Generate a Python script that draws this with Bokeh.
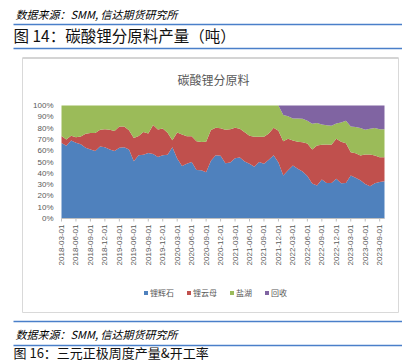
import math
import pandas as pd
from bokeh.plotting import figure
from bokeh.models import ColumnDataSource, Range1d, Legend, LegendItem
from bokeh.core.properties import value
from bokeh.embed import file_html
from bokeh.resources import INLINE

# ---------------- data (shares of lithium carbonate output, %) ----------------
months = list(pd.date_range("2018-03-01", periods=68, freq="MS").strftime("%Y-%m-%d"))
series_names = ["锂辉石", "锂云母", "盐湖", "回收"]

spodumene = [66.8, 64.4, 69.0, 67.0, 65.6, 62.6, 61.0, 59.7, 63.8, 63.0,
             61.0, 59.7, 62.6, 63.0, 61.0, 50.6, 55.9, 56.5, 58.0, 57.0,
             54.4, 56.0, 56.5, 63.0, 53.0, 46.5, 48.5, 50.0, 43.0, 42.6,
             41.0, 51.0, 56.0, 55.5, 49.0, 49.5, 53.3, 54.0, 50.5, 48.5,
             45.8, 50.0, 48.5, 52.0, 56.0, 49.5, 38.0, 42.8, 47.0, 44.0,
             41.5, 37.7, 31.0, 29.3, 34.5, 31.4, 31.4, 35.2, 31.2, 31.4,
             38.0, 36.0, 33.8, 30.5, 28.6, 31.2, 32.2, 33.0]
lepidolite = [6.2, 5.6, 4.2, 5.0, 7.0, 12.4, 14.6, 15.9, 14.7, 16.0,
              17.5, 17.8, 18.9, 18.5, 17.0, 20.7, 17.1, 20.1, 17.3, 25.7,
              24.4, 23.6, 19.3, 6.3, 23.0, 27.8, 24.3, 22.8, 25.3, 25.0,
              27.0, 27.3, 24.2, 24.3, 29.5, 29.5, 26.9, 25.4, 25.8, 24.8,
              26.5, 22.3, 23.8, 23.3, 24.3, 28.2, 30.3, 27.7, 22.0, 24.0,
              25.9, 28.7, 30.0, 35.3, 30.7, 34.1, 33.8, 35.3, 36.8, 35.3,
              20.7, 21.8, 22.0, 26.1, 28.0, 24.6, 22.1, 21.3]
brine = [27.0, 30.0, 26.8, 28.0, 27.4, 25.0, 24.4, 24.4, 21.5, 21.0,
         21.5, 22.5, 18.5, 18.5, 22.0, 28.7, 27.0, 23.4, 24.7, 17.3,
         21.2, 20.4, 24.2, 30.7, 24.0, 25.7, 27.2, 27.2, 31.7, 32.4,
         32.0, 21.7, 19.8, 20.2, 21.5, 21.0, 19.8, 20.6, 23.7, 26.7,
         27.7, 27.7, 27.7, 24.7, 19.7, 22.3, 23.2, 20.0, 19.5, 20.5,
         20.9, 20.1, 22.8, 20.0, 18.0, 17.0, 16.8, 13.5, 17.0, 19.9,
         22.8, 23.2, 24.2, 21.9, 22.9, 24.2, 24.7, 24.7]
recycling = [0, 0, 0, 0, 0, 0, 0, 0, 0, 0,
             0, 0, 0, 0, 0, 0, 0, 0, 0, 0,
             0, 0, 0, 0, 0, 0, 0, 0, 0, 0,
             0, 0, 0, 0, 0, 0, 0, 0, 0, 0,
             0, 0, 0, 0, 0, 0, 8.5, 9.5, 11.5, 11.5,
             11.7, 13.5, 16.2, 15.4, 16.8, 17.5, 18.0, 16.0, 15.0, 13.4,
             18.5, 19.0, 20.0, 21.5, 20.5, 20.0, 21.0, 21.0]
y_ticks = [0, 10, 20, 30, 40, 50, 60, 70, 80, 90, 100]
tick_idx = list(range(0, len(months), 3))

colors = ["#4F81BD", "#C0504D", "#9BBB59", "#8064A2"]
CJK = "Noto Sans CJK SC"
LAT = "Liberation Sans"
GREY = "#595959"
BLUE = "#4a7fc9"

# ---------------- page geometry (pixels) ----------------
W, H = 402, 362
PL, PR, PT, PB = 61, 384, 105, 218          # plot-area box on the page
n_last = len(months) - 1
ux = (PR - PL) / n_last                      # px per month
uy = (PB - PT) / 100.0                       # px per percent

p = figure(width=W, height=H, output_backend="svg", toolbar_location=None,
           x_range=Range1d(0, W), y_range=Range1d(H, 0),
           x_axis_location=None, y_axis_location=None,
           min_border=0, background_fill_color="white", border_fill_color="white",
           title=None)
p.outline_line_color = None
p.grid.visible = False
p.extra_x_ranges = {"cx": Range1d(-PL / ux, n_last + (W - PR) / ux)}
p.extra_y_ranges = {"cy": Range1d(-(H - PB) / uy, 100 + PT / uy)}

# ---------------- page decorations ----------------
for yy in (24, 48, 321, 345):
    p.segment(x0=13, x1=W + 2, y0=yy, y1=yy, line_color=BLUE, line_width=1.5)
p.quad(left=22, right=398, top=57.5, bottom=312, fill_color=None,
       line_color="#d9d9d9", line_width=1)
p.segment(x0=22, x1=398, y0=57.5, y1=57.5, line_color="#d4d4d4", line_width=2)


def page_text(x, y, text, size, color="#000000", style="normal", align="left", font=CJK):
    p.text(x=[x], y=[y], text=[text], text_font=value(font), text_font_size=size,
           text_color=color, text_font_style=style, text_align=align,
           text_baseline="middle")


page_text(15, 13, "数据来源：SMM, 信达期货研究所", "11px", style="italic")
page_text(13, 34, "图 14：碳酸锂分原料产量（吨）", "15.5px", color="#111111")
page_text(213, 79, "碳酸锂分原料", "12px", color=GREY, align="center")
page_text(15, 333, "数据来源：SMM, 信达期货研究所", "11px", style="italic")
page_text(13, 352, "图 16：三元正极周度产量&开工率", "13px", color="#111111")

# ---------------- stacked 100% area chart ----------------
src = ColumnDataSource(dict(x=list(range(len(months))), s0=spodumene,
                            s1=lepidolite, s2=brine, s3=recycling))
rs = p.varea_stack(["s0", "s1", "s2", "s3"], x="x", color=colors, source=src,
                   x_range_name="cx", y_range_name="cy")

# x axis line, ticks and labels (drawn on the chart's own scales)
p.segment(x0=0, x1=n_last, y0=0, y1=0, line_color="#bfbfbf", line_width=1,
          x_range_name="cx", y_range_name="cy")
p.segment(x0=tick_idx, x1=tick_idx, y0=[0] * len(tick_idx), y1=[-3 / uy] * len(tick_idx),
          line_color="#bfbfbf", line_width=1, x_range_name="cx", y_range_name="cy")
p.text(x=tick_idx, y=[0] * len(tick_idx), text=[months[i] for i in tick_idx],
       angle=math.pi / 2, text_align="right", text_baseline="middle", y_offset=6,
       text_font=value(LAT), text_font_size="8px", text_color=GREY,
       x_range_name="cx", y_range_name="cy")
# y axis labels
p.text(x=[0] * len(y_ticks), y=y_ticks, text=[f"{v}%" for v in y_ticks],
       text_align="right", text_baseline="middle", x_offset=-8,
       text_font=value(LAT), text_font_size="8px", text_color=GREY,
       x_range_name="cx", y_range_name="cy")

# legend
legend = Legend(items=[LegendItem(label=n, renderers=[r]) for n, r in zip(series_names, rs)],
                location=(143, H - 298), orientation="horizontal",
                glyph_width=5, glyph_height=5, label_standoff=2, spacing=12,
                padding=0, margin=0, border_line_color=None,
                background_fill_alpha=0, label_text_font=CJK,
                label_text_font_size="8px", label_text_color=GREY,
                label_height=9, label_width=1)
p.add_layout(legend)

open("out.html", "w").write(file_html(p, INLINE))
